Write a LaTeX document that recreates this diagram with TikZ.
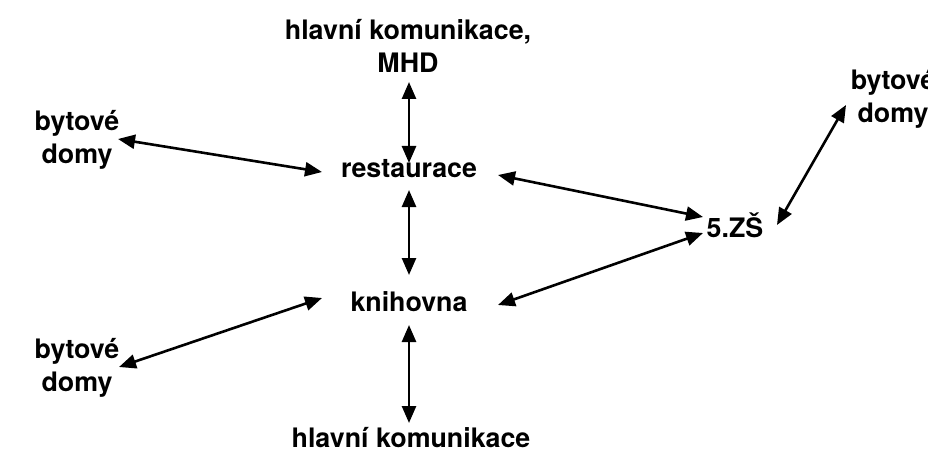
\documentclass[tikz,border=0pt]{standalone}
\usepackage{fontspec}
\setmainfont{TeX Gyre Heros}
\usetikzlibrary{arrows.meta}
\begin{document}
\begin{tikzpicture}[x=1pt,y=-1pt,
  lbl/.style={inner sep=0pt,anchor=base,align=center,
    font=\fontsize{26.8}{33}\selectfont\bfseries},
  link/.style={line width=2.6pt,
    {Triangle[length=17pt,width=14pt]}-{Triangle[length=17pt,width=14pt]}}]
\useasboundingbox (0,0) rectangle (928,457);
% places (base anchor = baseline of the last line)
\node[lbl] (mhd)   at (408,73)  {hlavní komunikace,\\MHD};
\node[lbl] (bytA)  at (77,164)  {bytové\\domy};
\node[lbl] (bytB)  at (77,391)  {bytové\\domy};
\node[lbl] (bytC)  at (893,123) {bytové\\domy};
\node[lbl] (rest)  at (409,178) {restaurace};
\node[lbl] (knih)  at (409,311) {knihovna};
\node[lbl] (zs)    at (735,237) {5.ZŠ};
\node[lbl] (silnice) at (411,447) {hlavní komunikace};
% links
\draw[link] ([shift={(1,9)}]mhd.base) -- ([shift={(0,-15)}]rest.base);
\draw[link] ([shift={(41,-25)}]bytA.base) -- ([shift={(-87,-6)}]rest.base);
\draw[link] ([shift={(0,12)}]rest.base) -- ([shift={(0,-36)}]knih.base);
\draw[link] ([shift={(89,-3)}]rest.base) -- ([shift={(-32,-20)}]zs.base);
\draw[link] ([shift={(89,-6)}]knih.base) -- ([shift={(-32,-4)}]zs.base);
\draw[link] ([shift={(42,-12)}]zs.base) -- ([shift={(-47,-18)}]bytC.base);
\draw[link] ([shift={(-87,-13)}]knih.base) -- ([shift={(42,-24)}]bytB.base);
\draw[link] ([shift={(0,14)}]knih.base) -- ([shift={(-2,-24)}]silnice.base);
\end{tikzpicture}
\end{document}
